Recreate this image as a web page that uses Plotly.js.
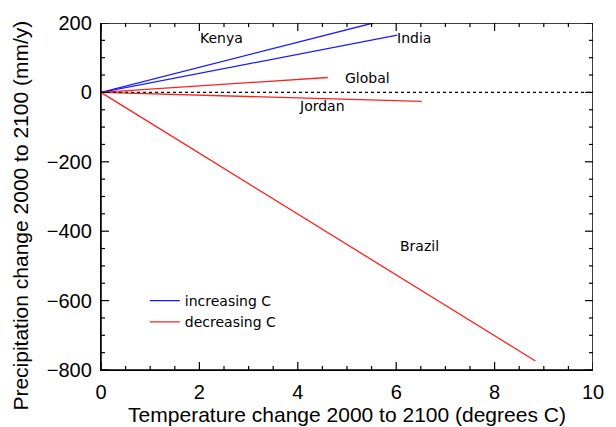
<!DOCTYPE html>
<html>
<head>
<meta charset="utf-8">
<script src="https://cdn.plot.ly/plotly-3.0.1.min.js"></script>
<style>html,body{margin:0;padding:0;background:#fff;}#chart{width:616px;height:427px;}</style>
</head>
<body>
<div id="chart"></div>
<script>
// Regions: end point of each (temperature change, precipitation change) line from origin
const regions = ["Kenya", "India", "Global", "Jordan", "Brazil"];
const tempChange = [5.53, 6.02, 4.61, 6.52, 8.83];
const precipChange = [200, 165, 43, -26, -774];
const groups = ["increasing C", "increasing C", "decreasing C", "decreasing C", "decreasing C"];
// Label positions for region names
const labelX = [2.45, 6.37, 5.41, 4.5, 6.47];
const labelY = [157, 157, 42, -38, -442];
const groupColors = {"increasing C": "#1a1aff", "decreasing C": "#ff2020"};
const zeroLineX = [0, 10];
const zeroLineY = [0, 0];
const xTicks = [0, 2, 4, 6, 8, 10];
const yTicks = [-800, -600, -400, -200, 0, 200];
const xMinorStep = 0.5;
const yMinorStep = 50;
const xRange = [0, 10];
const yRange = [-800, 200];

const W = 616, H = 427;
const M = {l: 101, r: 23, t: 23, b: 57};
const plotW = W - M.l - M.r, plotH = H - M.t - M.b;

const traces = [];
const shown = {};
regions.forEach((r, i) => {
  const g = groups[i];
  traces.push({
    x: [0, tempChange[i]], y: [0, precipChange[i]],
    mode: "lines", type: "scatter", name: g, legendgroup: g,
    showlegend: !shown[g], line: {color: groupColors[g], width: 1.3}, hoverinfo: "skip"
  });
  shown[g] = true;
});
traces.push({
  x: zeroLineX, y: zeroLineY, mode: "lines", type: "scatter",
  showlegend: false, line: {color: "#000", width: 1.3, dash: "dot"}, hoverinfo: "skip"
});

// Frame and inward tick marks, built from the axis ranges and tick positions
const pxX = (xRange[1] - xRange[0]) / plotW;   // data units per pixel
const pxY = (yRange[1] - yRange[0]) / plotH;
const fx = [xRange[0], xRange[1], xRange[1], xRange[0], xRange[0]];
const fy = [yRange[0], yRange[0], yRange[1], yRange[1], yRange[0]];
const tx = [], ty = [];
for (let v = xRange[0]; v <= xRange[1] + 1e-9; v += xMinorStep) {
  const len = (xTicks.some(t => Math.abs(t - v) < 1e-9) ? 8 : 4) * pxY;
  tx.push(v, v, null, v, v, null);
  ty.push(yRange[0], yRange[0] + len, null, yRange[1], yRange[1] - len, null);
}
for (let v = yRange[0]; v <= yRange[1] + 1e-9; v += yMinorStep) {
  const len = (yTicks.some(t => Math.abs(t - v) < 1e-9) ? 8 : 4) * pxX;
  tx.push(xRange[0], xRange[0] + len, null, xRange[1], xRange[1] - len, null);
  ty.push(v, v, null, v, v, null);
}
traces.push({x: tx, y: ty, mode: "lines", type: "scatter", showlegend: false, hoverinfo: "skip",
  connectgaps: false, cliponaxis: false, line: {color: "#000", width: 1.2}});
traces.push({x: fx, y: fy, mode: "lines", type: "scatter", showlegend: false, hoverinfo: "skip",
  cliponaxis: false, line: {color: "#000", width: 1.5}});

const annotations = regions.map((r, i) => ({
  x: labelX[i], y: labelY[i], xref: "x", yref: "y", text: r, showarrow: false,
  font: {family: "DejaVu Sans", size: 14, color: "#000"}
}));
// y-axis title as rotated text (sits a little lower, like the reference)
annotations.push({
  text: "Precipitation change 2000 to 2100 (mm/y)", textangle: -90, showarrow: false,
  xref: "paper", yref: "paper", x: 0, y: 0.445, xanchor: "center", yanchor: "middle", xshift: -80,
  font: {family: "Liberation Sans, Arial, sans-serif", size: 21, color: "#000"}
});

const tickFont = {family: "Liberation Sans, Arial, sans-serif", size: 20, color: "#000"};
const titleFont = {family: "Liberation Sans, Arial, sans-serif", size: 21, color: "#000"};

const layout = {
  width: W, height: H,
  margin: M,
  paper_bgcolor: "#fff", plot_bgcolor: "#fff",
  showlegend: true,
  legend: {
    x: 0.089, y: 0.245, xanchor: "left", yanchor: "top",
    bgcolor: "rgba(0,0,0,0)", borderwidth: 0, tracegroupgap: 0, itemwidth: 30,
    font: {family: "DejaVu Sans", size: 14, color: "#000"}
  },
  xaxis: {
    range: xRange, tickmode: "array", tickvals: xTicks,
    showgrid: false, zeroline: false, showline: true, linecolor: "#000", linewidth: 1.3,
    ticks: "", tickfont: tickFont, ticklabelstandoff: 4,
    title: {text: "Temperature change 2000 to 2100 (degrees C)", standoff: 4, font: titleFont}
  },
  yaxis: {
    range: yRange, tickmode: "array", tickvals: yTicks,
    showgrid: false, zeroline: false, showline: true, linecolor: "#000", linewidth: 1.3,
    ticks: "", tickfont: tickFont, ticklabelstandoff: 4
  },
  annotations: annotations
};

Plotly.newPlot("chart", traces, layout, {displayModeBar: false});
</script>
</body>
</html>
